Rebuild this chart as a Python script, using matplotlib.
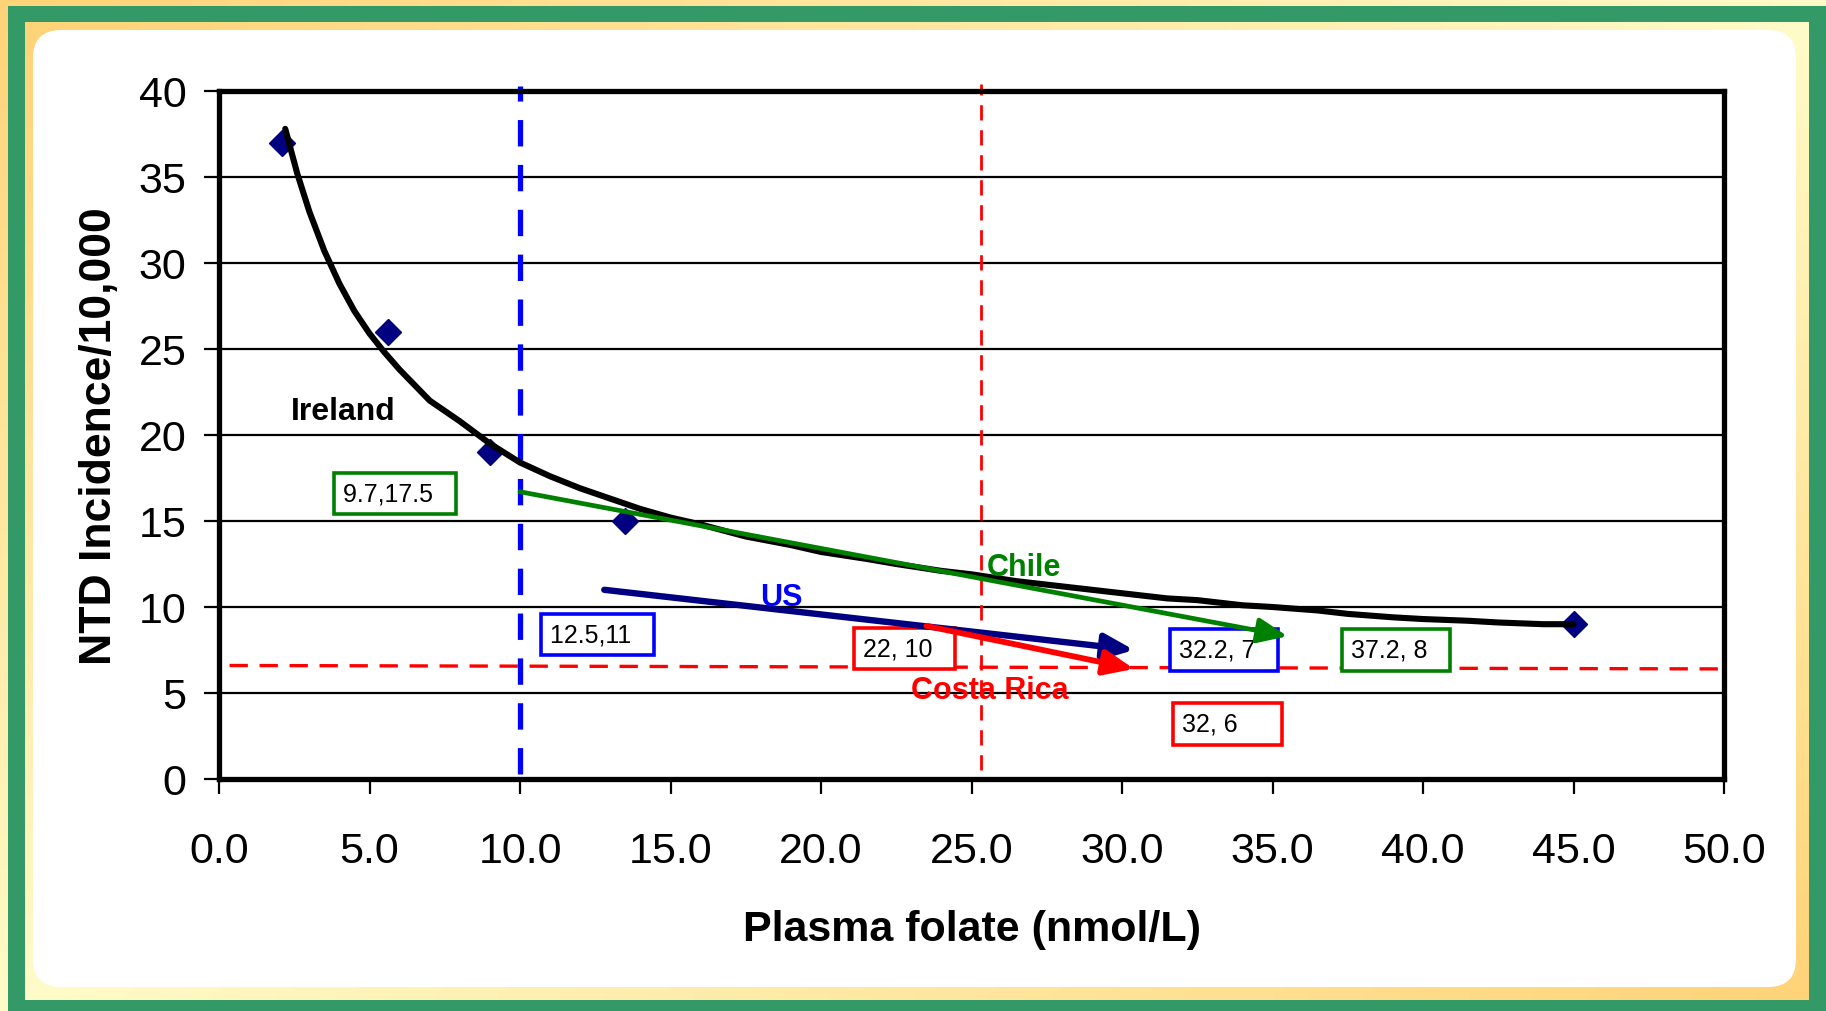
import numpy as np
import matplotlib
matplotlib.use("Agg")
import matplotlib.pyplot as plt
from matplotlib.patches import Rectangle, FancyBboxPatch
from matplotlib.colors import LinearSegmentedColormap

plt.rcParams['font.family'] = ['Liberation Sans', 'DejaVu Sans']

# measured points (blue diamonds)
point_x = [2.1, 5.6, 9.0, 13.5, 45.0]
point_y = [37.0, 26.0, 19.0, 15.0, 9.0]

# fitted curve
curve_x = [2.2, 2.6, 3.0, 3.5, 4.0, 4.5, 5.0, 5.5, 6.0, 6.5, 7.0, 8.0, 9.0, 10.0, 11.0,
           12.0, 13.0, 14.0, 15.0, 16.0, 17.5, 19.0, 20.0, 21.5, 22.5, 24.0, 25.0,
           26.5, 27.5, 29.0, 30.0, 31.5, 32.5, 34.0, 35.0, 36.5, 37.5, 39.0, 40.0,
           41.5, 42.5, 44.0, 45.0]
curve_y = [37.8, 35.2, 33.0, 30.7, 28.8, 27.2, 25.9, 24.8, 23.8, 22.9, 22.0, 20.8, 19.5,
           18.4, 17.6, 16.9, 16.3, 15.7, 15.2, 14.8, 14.1, 13.6, 13.2, 12.8, 12.5,
           12.1, 11.9, 11.5, 11.3, 11.0, 10.8, 10.5, 10.4, 10.1, 10.0, 9.8, 9.6,
           9.4, 9.3, 9.2, 9.1, 9.0, 9.0]

# country trends: start -> end
countries = ['Chile', 'US', 'Costa Rica']
start_x = [10.0, 12.8, 23.5]
start_y = [16.7, 11.0, 8.9]
end_x = [35.5, 30.4, 30.4]
end_y = [8.3, 7.5, 6.4]
trend_colors = ['#008000', '#000080', '#FF0000']
trend_widths = [3.4, 4.6, 4.2]

name_x = [25.5, 18.7, 25.6]
name_y = [12.3, 10.6, 5.2]
name_colors = ['#008000', '#0000FF', '#FF0000']

box_text = ['9.7,17.5  ', '12.5,11  ', '22, 10  ', '32.2, 7  ', '37.2, 8  ', '32, 6     ']
box_x = [4.12, 11.0, 21.4, 31.9, 37.6, 32.0]
box_y = [16.6, 8.4, 7.6, 7.5, 7.5, 3.2]
box_colors = ['#008000', '#0000FF', '#FF0000', '#0000FF', '#008000', '#FF0000']

W, H = 1826, 1012
fig = plt.figure(figsize=(W / 100, H / 100), dpi=100)

# background frame
bg = fig.add_axes([0, 0, 1, 1])
bg.set_xlim(0, W)
bg.set_ylim(H, 0)
bg.axis('off')
gx, gy = np.meshgrid(np.linspace(0, 1, 200), np.linspace(0, 1, 120))
grad = np.abs(gx + gy - 1)
cmap = LinearSegmentedColormap.from_list('frame', ['#FFFBC8', '#FFD378'])
bg.imshow(grad, cmap=cmap, extent=[0, W, H, 0], aspect='auto', zorder=0)
bg.add_patch(Rectangle((8, 7), W, H, fc='#339966', ec='none', zorder=1))
bg.imshow(grad, cmap=cmap, extent=[25, 1809, 1001, 23], aspect='auto', zorder=2)
bg.add_patch(FancyBboxPatch((33 + 28, 31 + 28), 1796 - 33 - 56, 988 - 31 - 56,
                            boxstyle='round,pad=28', fc='white', ec='none', zorder=3))

ax = fig.add_axes([219 / W, 1 - 780 / H, (1724 - 219) / W, (780 - 92) / H])
ax.set_facecolor('none')
ax.set_xlim(0, 50)
ax.set_ylim(0, 40)
ax.set_xticks(np.arange(0, 51, 5))
ax.set_xticklabels(['%.1f' % v for v in np.arange(0, 51, 5)])
ax.set_yticks(np.arange(0, 41, 5))
ax.yaxis.grid(True, color='black', lw=1.6)
ax.set_axisbelow(True)
for s in ax.spines.values():
    s.set_linewidth(3.8)
ax.tick_params(axis='both', direction='out', length=10.5, width=1.6, labelsize=31)
ax.tick_params(axis='y', pad=13)
ax.tick_params(axis='x', pad=27)
ax.set_xlabel('Plasma folate (nmol/L)', fontsize=31, fontweight='bold', labelpad=27)
ax.set_ylabel('NTD Incidence/10,000', fontsize=32, fontweight='bold', labelpad=13)

# reference lines
ax.plot([10, 10], [0.3, 40.3], color='#0000FF', lw=3.8, dashes=(5, 3.5), clip_on=False)
ax.plot([25.3, 25.3], [0.5, 40.4], color='#FF0000', lw=2.0, dashes=(5.5, 3.5), clip_on=False)
ax.plot([0.35, 50], [6.6, 6.4], color='#FF0000', lw=2.4, dashes=(5.5, 3.5), clip_on=False)

ax.plot(curve_x, curve_y, color='black', lw=4.4, solid_capstyle='round', zorder=4)
ax.plot(point_x, point_y, 'D', color='#000080', ms=13, zorder=3)

for i in range(len(box_text)):
    ax.text(box_x[i], box_y[i], box_text[i], fontsize=18, ha='left', va='center',
            bbox=dict(boxstyle='square,pad=0.35', fc='white', ec=box_colors[i], lw=2.6),
            zorder=4.5)

for i in range(len(countries)):
    ax.annotate('', xy=(end_x[i], end_y[i]), xytext=(start_x[i], start_y[i]),
                arrowprops=dict(arrowstyle='-|>,head_length=0.9,head_width=0.38',
                                color=trend_colors[i], lw=trend_widths[i],
                                mutation_scale=20, shrinkA=0, shrinkB=0), zorder=5)
    ax.text(name_x[i], name_y[i], countries[i], color=name_colors[i], fontsize=22,
            fontweight='bold', ha='left' if i == 0 else 'center', va='center', zorder=6)

ax.text(2.4, 21.4, 'Ireland', fontsize=23, fontweight='bold', ha='left', va='center')

fig.savefig('out.png', dpi=100)
